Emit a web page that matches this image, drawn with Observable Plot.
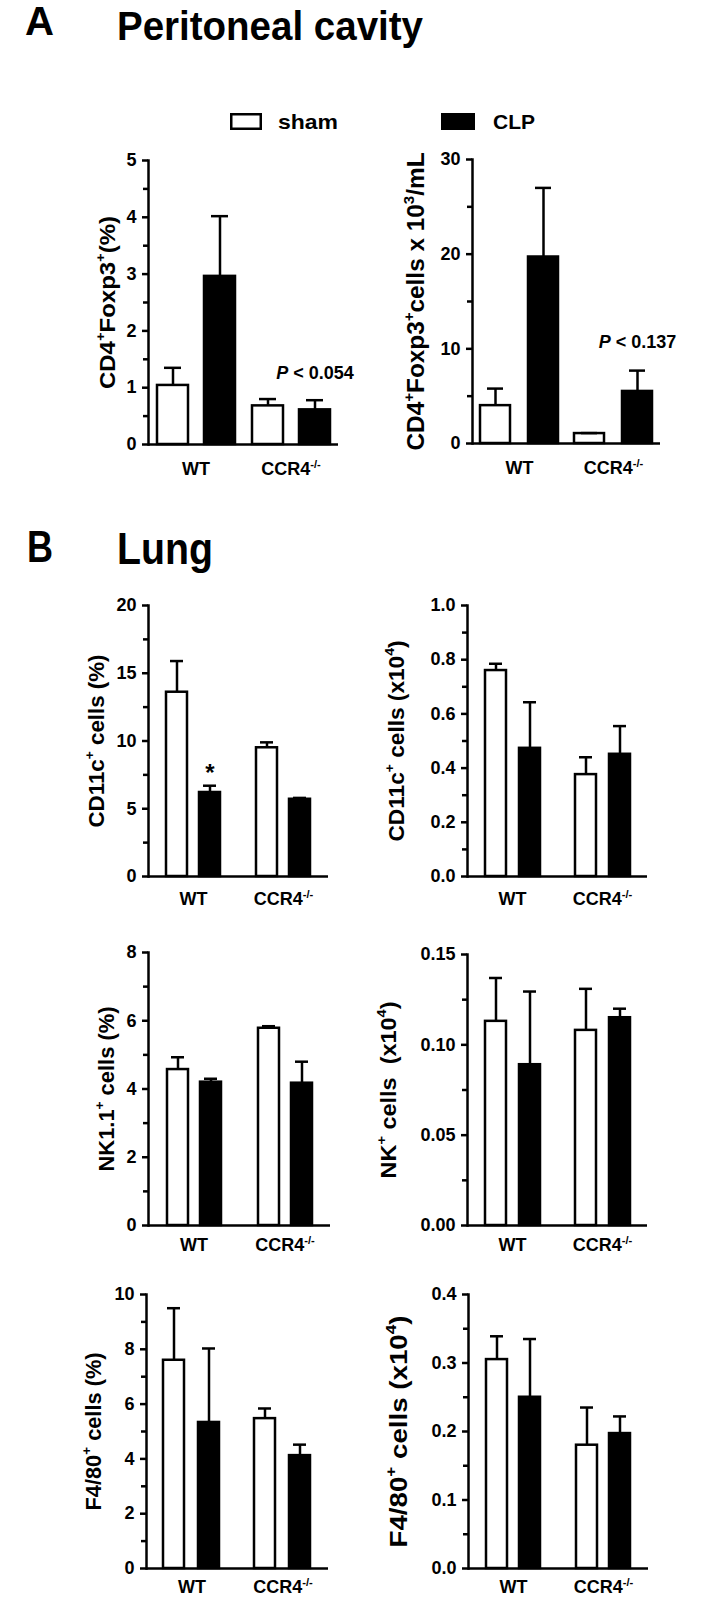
<!DOCTYPE html>
<html>
<head>
<meta charset="utf-8">
<script src="https://cdn.jsdelivr.net/npm/d3@7"></script>
<script src="https://cdn.jsdelivr.net/npm/@observablehq/plot@0.6"></script>
<style>
html, body { margin: 0; padding: 0; background: #fff; }
#fig { position: relative; width: 702px; height: 1598px; overflow: hidden; background: #fff; }
#fig svg { position: absolute; }
</style>
</head>
<body>
<div id="fig"></div>
<script>
// ---------- categories ----------
const groups = ["WT", "CCR4"];
const groupLabels = ["WT", "CCR4^{-/-}"];
const conditions = ["sham", "CLP"];
const conditionFills = ["white", "black"];
// bar order in every value array: WT sham, WT CLP, CCR4 sham, CCR4 CLP

// ---------- A: peritoneal cavity ----------
const pcTregPctMean = [1.04, 2.96, 0.68, 0.61];
const pcTregPctSem  = [0.31, 1.06, 0.12, 0.17];
const pcTregPctTicks = [0, 1, 2, 3, 4, 5];
const pcTregPctTickLabels = ["0", "1", "2", "3", "4", "5"];
const pcTregPctMinor = [0.5, 1.5, 2.5, 3.5, 4.5];
const pcTregPctTitle = "CD4^{+}Foxp3^{+}(%)";
const pcTregPctNote = [{group: "CCR4", cond: "CLP", y: 1.26, label: "~{P} < 0.054"}];

const pcTregCntMean = [4.0, 19.7, 1.05, 5.5];
const pcTregCntSem  = [1.8, 7.3, 0.05, 2.2];
const pcTregCntTicks = [0, 10, 20, 30];
const pcTregCntTickLabels = ["0", "10", "20", "30"];
const pcTregCntMinor = [5, 15, 25];
const pcTregCntTitle = "CD4^{+}Foxp3^{+}cells x 10^{3}/mL";
const pcTregCntNote = [{group: "CCR4", cond: "CLP", y: 10.7, label: "~{P} < 0.137"}];

// ---------- B: lung ----------
const lungDcPctMean = [13.6, 6.2, 9.5, 5.7];
const lungDcPctSem  = [2.3, 0.5, 0.4, 0.1];
const lungDcPctTicks = [0, 5, 10, 15, 20];
const lungDcPctTickLabels = ["0", "5", "10", "15", "20"];
const lungDcPctMinor = [2.5, 7.5, 12.5, 17.5];
const lungDcPctTitle = "CD11c^{+} cells (%)";
const lungDcPctStar = [{group: "WT", cond: "CLP", y: 7.6, label: "*"}];

const lungDcCntMean = [0.76, 0.473, 0.376, 0.451];
const lungDcCntSem  = [0.025, 0.17, 0.064, 0.104];
const lungDcCntTicks = [0, 0.2, 0.4, 0.6, 0.8, 1.0];
const lungDcCntTickLabels = ["0.0", "0.2", "0.4", "0.6", "0.8", "1.0"];
const lungDcCntMinor = [0.1, 0.3, 0.5, 0.7, 0.9];
const lungDcCntTitle = "CD11c^{+} cells (x10^{4})";

const lungNkPctMean = [4.57, 4.2, 5.78, 4.17];
const lungNkPctSem  = [0.36, 0.1, 0.06, 0.63];
const lungNkPctTicks = [0, 2, 4, 6, 8];
const lungNkPctTickLabels = ["0", "2", "4", "6", "8"];
const lungNkPctMinor = [1, 3, 5, 7];
const lungNkPctTitle = "NK1.1^{+} cells (%)";

const lungNkCntMean = [0.113, 0.089, 0.108, 0.115];
const lungNkCntSem  = [0.024, 0.0405, 0.023, 0.005];
const lungNkCntTicks = [0, 0.05, 0.10, 0.15];
const lungNkCntTickLabels = ["0.00", "0.05", "0.10", "0.15"];
const lungNkCntMinor = [0.025, 0.075, 0.125];
const lungNkCntTitle = "NK^{+} cells\u00a0 (x10^{4})";

const lungMacPctMean = [7.6, 5.33, 5.47, 4.12];
const lungMacPctSem  = [1.9, 2.7, 0.37, 0.4];
const lungMacPctTicks = [0, 2, 4, 6, 8, 10];
const lungMacPctTickLabels = ["0", "2", "4", "6", "8", "10"];
const lungMacPctMinor = [1, 3, 5, 7, 9];
const lungMacPctTitle = "F4/80^{+} cells (%)";

const lungMacCntMean = [0.305, 0.25, 0.18, 0.197];
const lungMacCntSem  = [0.034, 0.085, 0.055, 0.025];
const lungMacCntTicks = [0, 0.1, 0.2, 0.3, 0.4];
const lungMacCntTickLabels = ["0.0", "0.1", "0.2", "0.3", "0.4"];
const lungMacCntMinor = [0.05, 0.15, 0.25, 0.35];
const lungMacCntTitle = "F4/80^{+} cells (x10^{4})";

// ---------- layout (pixels) ----------
const FONT = "'Liberation Sans', Arial, Helvetica, sans-serif";
const NS = "http://www.w3.org/2000/svg";
const fig = document.getElementById("fig");

function richText(el) {
  const s = el.textContent;
  if (!/[\^~]\{/.test(s)) return;
  const fs = parseFloat(getComputedStyle(el).fontSize) || 17;
  el.textContent = "";
  const parts = s.split(/([\^~]\{[^}]*\})/).filter(p => p.length);
  let raised = false;
  for (const p of parts) {
    const t = document.createElementNS(NS, "tspan");
    if (p.startsWith("^{")) {
      t.textContent = p.slice(2, -1);
      t.setAttribute("font-size", (fs * 0.62).toFixed(2));
      t.setAttribute("dy", (-fs * 0.42).toFixed(2));
      raised = true;
    } else {
      if (p.startsWith("~{")) {
        t.textContent = p.slice(2, -1);
        t.setAttribute("font-style", "italic");
      } else t.textContent = p;
      if (raised) { t.setAttribute("dy", (fs * 0.42).toFixed(2)); raised = false; }
    }
    el.appendChild(t);
  }
}

function panel(cfg, d) {
  const rows = [];
  groups.forEach((g, i) => conditions.forEach((c, j) => {
    const k = i * 2 + j;
    rows.push({group: g, cond: c, fillColor: conditionFills[j], mean: d.mean[k], top: d.mean[k] + d.sem[k]});
  }));
  const mT = 20, mB = 30;
  const width = cfg.svgRight - cfg.svgLeft;
  const height = mT + (cfg.y0 - cfg.yTop) + mB;
  const marks = [
    Plot.barY(rows, {fx: "group", x: "cond", y: "mean", fill: "fillColor", stroke: "black", strokeWidth: 2.5}),
    Plot.ruleX(rows, {fx: "group", x: "cond", y1: "mean", y2: "top", stroke: "black", strokeWidth: 2.5}),
    Plot.tickY(rows, {fx: "group", x: "cond", y: "top", stroke: "black", strokeWidth: 2.5, insetLeft: cfg.cap, insetRight: cfg.cap}),
    Plot.ruleY([0], {stroke: "black", strokeWidth: 2.5}),
    Plot.frame({anchor: "left", facet: "super", stroke: "black", strokeWidth: 2.5}),
    Plot.axisY(d.minor, {tickSize: 5, strokeWidth: 2.5, tickFormat: () => "", label: null}),
    Plot.axisY(d.ticks, {tickSize: 6, tickPadding: 6, strokeWidth: 2.5, fontSize: 18,
      tickFormat: v => d.tickLabels[d.ticks.indexOf(v)], label: null}),
    Plot.axisFx({anchor: "bottom", tickSize: 0, tickPadding: cfg.xlabPad, fontSize: 18,
      tickFormat: g => groupLabels[groups.indexOf(g)], label: null}),
    Plot.text([d.title], {facet: "super", text: t => t, frameAnchor: "left", textAnchor: "middle", rotate: -90,
      dx: cfg.titleX - 0.32 * cfg.titleSize - cfg.axisX, fontSize: cfg.titleSize})
  ];
  if (d.note) marks.push(Plot.text(d.note, {fx: "group", x: "cond", y: "y", text: "label", fontSize: 18}));
  if (d.star) marks.push(Plot.text(d.star, {fx: "group", x: "cond", y: "y", text: "label", fontSize: 24}));
  const svg = Plot.plot({
    width, height,
    marginLeft: cfg.axisX - cfg.svgLeft,
    marginRight: cfg.svgRight - cfg.xEnd,
    marginTop: mT, marginBottom: mB,
    style: {fontFamily: FONT, fontWeight: "bold", fontSize: "17px", color: "black", background: "none", overflow: "visible"},
    fx: {domain: groups, paddingInner: 0, paddingOuter: 0, label: null},
    x: {domain: conditions, paddingInner: cfg.pi, paddingOuter: cfg.po, axis: null},
    y: {domain: [0, d.ticks[d.ticks.length - 1]], label: null},
    color: {type: "identity"},
    marks
  });
  svg.style.left = cfg.svgLeft + "px";
  svg.style.top = (cfg.yTop - mT) + "px";
  fig.appendChild(svg);
  svg.querySelectorAll("text").forEach(el => {
    const isTitle = el.textContent === d.title;
    richText(el);
    if (isTitle) {
      el.setAttribute("textLength", cfg.titleLen);
      el.setAttribute("lengthAdjust", "spacingAndGlyphs");
    }
  });
}

panel({svgLeft: 40, svgRight: 360, axisX: 148, xEnd: 338, yTop: 160, y0: 444, pi: 0.35, po: 0.17, cap: 7, xlabPad: 18, titleX: 114, titleSize: 22, titleLen: 173},
  {mean: pcTregPctMean, sem: pcTregPctSem, ticks: pcTregPctTicks, tickLabels: pcTregPctTickLabels, minor: pcTregPctMinor, title: pcTregPctTitle, note: pcTregPctNote});
panel({svgLeft: 360, svgRight: 702, axisX: 472, xEnd: 660, yTop: 159, y0: 443, pi: 0.365, po: 0.16, cap: 7, xlabPad: 18, titleX: 423, titleSize: 23, titleLen: 298},
  {mean: pcTregCntMean, sem: pcTregCntSem, ticks: pcTregCntTicks, tickLabels: pcTregCntTickLabels, minor: pcTregCntMinor, title: pcTregCntTitle, note: pcTregCntNote});

panel({svgLeft: 40, svgRight: 360, axisX: 148, xEnd: 328, yTop: 605, y0: 876, pi: 0.37, po: 0.51, cap: 4, xlabPad: 16, titleX: 103, titleSize: 22, titleLen: 173},
  {mean: lungDcPctMean, sem: lungDcPctSem, ticks: lungDcPctTicks, tickLabels: lungDcPctTickLabels, minor: lungDcPctMinor, title: lungDcPctTitle, star: lungDcPctStar});
panel({svgLeft: 360, svgRight: 702, axisX: 467, xEnd: 647, yTop: 605, y0: 876, pi: 0.39, po: 0.5, cap: 4, xlabPad: 16, titleX: 403, titleSize: 22, titleLen: 201},
  {mean: lungDcCntMean, sem: lungDcCntSem, ticks: lungDcCntTicks, tickLabels: lungDcCntTickLabels, minor: lungDcCntMinor, title: lungDcCntTitle});

panel({svgLeft: 40, svgRight: 360, axisX: 148, xEnd: 330, yTop: 952, y0: 1225, pi: 0.373, po: 0.545, cap: 4, xlabPad: 13, titleX: 113, titleSize: 22, titleLen: 165},
  {mean: lungNkPctMean, sem: lungNkPctSem, ticks: lungNkPctTicks, tickLabels: lungNkPctTickLabels, minor: lungNkPctMinor, title: lungNkPctTitle});
panel({svgLeft: 360, svgRight: 702, axisX: 467, xEnd: 647, yTop: 954, y0: 1225, pi: 0.39, po: 0.5, cap: 4, xlabPad: 13, titleX: 395, titleSize: 22, titleLen: 177},
  {mean: lungNkCntMean, sem: lungNkCntSem, ticks: lungNkCntTicks, tickLabels: lungNkCntTickLabels, minor: lungNkCntMinor, title: lungNkCntTitle});

panel({svgLeft: 40, svgRight: 360, axisX: 146, xEnd: 328, yTop: 1294, y0: 1568, pi: 0.386, po: 0.493, cap: 4, xlabPad: 12, titleX: 100, titleSize: 22, titleLen: 158},
  {mean: lungMacPctMean, sem: lungMacPctSem, ticks: lungMacPctTicks, tickLabels: lungMacPctTickLabels, minor: lungMacPctMinor, title: lungMacPctTitle});
panel({svgLeft: 360, svgRight: 702, axisX: 467, xEnd: 648, yTop: 1294, y0: 1568, pi: 0.368, po: 0.515, cap: 4, xlabPad: 12, titleX: 405, titleSize: 24, titleLen: 232},
  {mean: lungMacCntMean, sem: lungMacCntSem, ticks: lungMacCntTicks, tickLabels: lungMacCntTickLabels, minor: lungMacCntMinor, title: lungMacCntTitle});

// ---------- headings and legend ----------
const ov = document.createElementNS(NS, "svg");
ov.setAttribute("width", 702);
ov.setAttribute("height", 1598);
ov.style.left = "0px"; ov.style.top = "0px";
ov.setAttribute("font-family", FONT);
ov.setAttribute("font-weight", "bold");
function txt(x, y, s, size, len) {
  const t = document.createElementNS(NS, "text");
  t.setAttribute("x", x); t.setAttribute("y", y);
  t.setAttribute("font-size", size);
  if (len) { t.setAttribute("textLength", len); t.setAttribute("lengthAdjust", "spacingAndGlyphs"); }
  t.textContent = s;
  ov.appendChild(t);
}
function box(x, y, w, h, fill) {
  const r = document.createElementNS(NS, "rect");
  r.setAttribute("x", x); r.setAttribute("y", y);
  r.setAttribute("width", w); r.setAttribute("height", h);
  r.setAttribute("fill", fill); r.setAttribute("stroke", "black"); r.setAttribute("stroke-width", 2.5);
  ov.appendChild(r);
}
txt(25, 35, "A", 40, 29);
txt(117, 40, "Peritoneal cavity", 40, 306);
txt(27, 562, "B", 44, 26);
txt(117, 564, "Lung", 44, 96);
box(231.25, 114.25, 29.5, 14.5, "white");
txt(278, 129, conditions[0], 21, 60);
box(442.25, 114.25, 31.5, 14.5, "black");
txt(493, 129, conditions[1], 21, 42);
fig.appendChild(ov);
</script>
</body>
</html>
